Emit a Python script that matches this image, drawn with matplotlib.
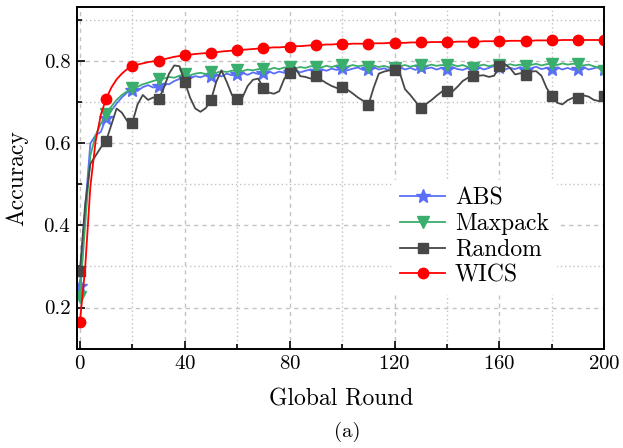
import numpy as np
import matplotlib
matplotlib.use("Agg")
import matplotlib.pyplot as plt
from matplotlib.ticker import MultipleLocator

plt.rcParams['font.family'] = ['cmr10', 'DejaVu Serif']
plt.rcParams['axes.formatter.use_mathtext'] = True
plt.rcParams['mathtext.fontset'] = 'cm'

# accuracy logged every 2 global rounds, 0..200
rounds = np.arange(0, 201, 2)

abs_acc = [
    0.252, 0.440, 0.600, 0.620, 0.628, 0.662, 0.680, 0.697, 0.712, 0.724,
    0.731, 0.728, 0.737, 0.742, 0.736, 0.740, 0.746, 0.744, 0.752, 0.757,
    0.760, 0.758, 0.764, 0.761, 0.766, 0.764, 0.768, 0.763, 0.770, 0.766,
    0.768, 0.772, 0.767, 0.773, 0.769, 0.771, 0.776, 0.770, 0.775, 0.772,
    0.775, 0.779, 0.773, 0.777, 0.780, 0.776, 0.781, 0.777, 0.782, 0.779,
    0.784, 0.778, 0.782, 0.785, 0.779, 0.781, 0.786, 0.780, 0.783, 0.778,
    0.781, 0.786, 0.780, 0.784, 0.779, 0.787, 0.782, 0.785, 0.780, 0.784,
    0.782, 0.786, 0.781, 0.779, 0.784, 0.781, 0.786, 0.780, 0.784, 0.789,
    0.785, 0.780, 0.784, 0.781, 0.786, 0.779, 0.783, 0.787, 0.781, 0.784,
    0.781, 0.785, 0.780, 0.784, 0.779, 0.782, 0.786, 0.780, 0.783, 0.787,
    0.781,
]

maxpack_acc = [
    0.225, 0.400, 0.570, 0.620, 0.648, 0.672, 0.690, 0.706, 0.718, 0.727,
    0.734, 0.738, 0.744, 0.748, 0.752, 0.756, 0.758, 0.762, 0.760, 0.765,
    0.768, 0.766, 0.770, 0.772, 0.769, 0.774, 0.772, 0.776, 0.774, 0.777,
    0.778, 0.776, 0.780, 0.778, 0.781, 0.782, 0.780, 0.784, 0.781, 0.785,
    0.785, 0.783, 0.786, 0.784, 0.788, 0.787, 0.785, 0.789, 0.786, 0.790,
    0.790, 0.787, 0.791, 0.788, 0.790, 0.787, 0.790, 0.786, 0.789, 0.785,
    0.783, 0.788, 0.791, 0.787, 0.790, 0.791, 0.788, 0.792, 0.789, 0.791,
    0.790, 0.792, 0.788, 0.791, 0.786, 0.784, 0.789, 0.792, 0.788, 0.791,
    0.791, 0.789, 0.793, 0.790, 0.792, 0.788, 0.791, 0.794, 0.790, 0.793,
    0.794, 0.791, 0.795, 0.792, 0.794, 0.793, 0.790, 0.792, 0.788, 0.784,
    0.777,
]

random_acc = [
    0.288, 0.450, 0.550, 0.570, 0.590, 0.606, 0.645, 0.685, 0.675, 0.655,
    0.650, 0.695, 0.718, 0.706, 0.712, 0.707, 0.735, 0.770, 0.790, 0.788,
    0.750, 0.712, 0.685, 0.677, 0.686, 0.705, 0.750, 0.778, 0.750, 0.718,
    0.707, 0.712, 0.740, 0.755, 0.758, 0.735, 0.724, 0.721, 0.727, 0.758,
    0.772, 0.786, 0.764, 0.762, 0.758, 0.764, 0.755, 0.747, 0.740, 0.735,
    0.737, 0.731, 0.722, 0.712, 0.704, 0.693, 0.735, 0.770, 0.775, 0.778,
    0.780, 0.772, 0.732, 0.718, 0.702, 0.686, 0.696, 0.705, 0.716, 0.726,
    0.727, 0.726, 0.738, 0.752, 0.760, 0.764, 0.765, 0.766, 0.762, 0.765,
    0.789, 0.794, 0.784, 0.768, 0.771, 0.767, 0.775, 0.776, 0.765, 0.735,
    0.715, 0.699, 0.695, 0.705, 0.711, 0.711, 0.717, 0.714, 0.706, 0.703,
    0.715,
]

wics_acc = [
    0.164, 0.295, 0.495, 0.605, 0.670, 0.709, 0.736, 0.756, 0.770, 0.781,
    0.789, 0.792, 0.795, 0.798, 0.800, 0.802, 0.805, 0.808, 0.811, 0.813,
    0.815, 0.816, 0.818, 0.819, 0.820, 0.821, 0.822, 0.824, 0.825, 0.826,
    0.827, 0.828, 0.829, 0.830, 0.831, 0.832, 0.833, 0.834, 0.834, 0.835,
    0.836, 0.837, 0.837, 0.838, 0.839, 0.840, 0.840, 0.841, 0.841, 0.842,
    0.842, 0.842, 0.843, 0.843, 0.843, 0.843, 0.844, 0.844, 0.844, 0.845,
    0.845, 0.845, 0.845, 0.846, 0.846, 0.846, 0.846, 0.847, 0.847, 0.847,
    0.847, 0.847, 0.848, 0.848, 0.848, 0.848, 0.848, 0.849, 0.849, 0.849,
    0.849, 0.849, 0.850, 0.850, 0.850, 0.850, 0.850, 0.851, 0.851, 0.851,
    0.851, 0.851, 0.852, 0.852, 0.852, 0.852, 0.852, 0.852, 0.852, 0.852,
    0.852,
]

series = [
    ('ABS', abs_acc, '#5b6ef7', '*', 10),
    ('Maxpack', maxpack_acc, '#3aae6c', 'v', 8),
    ('Random', random_acc, '#474747', 's', 6.5),
    ('WICS', wics_acc, '#ff0000', 'o', 7.5),
]

fig = plt.figure(figsize=(6.23, 4.48), dpi=100)
ax = fig.add_axes([0.124, 0.222, 0.846, 0.762])

for name, acc, color, marker, ms in series:
    ax.plot(rounds, acc, color=color, lw=1.3, marker=marker, ms=ms,
            markevery=5, label=name)

ax.set_xlim(-1, 200)
ax.set_ylim(0.1, 0.932)
ax.xaxis.set_major_locator(MultipleLocator(40))
ax.xaxis.set_minor_locator(MultipleLocator(20))
ax.yaxis.set_major_locator(MultipleLocator(0.2))
ax.yaxis.set_minor_locator(MultipleLocator(0.1))
ax.yaxis.set_major_formatter(lambda v, p: f'{v:.1f}')

ax.grid(which='major', color='#c2c2c2', ls=(0, (3, 3)), lw=1)
ax.grid(which='minor', color='#c2c2c2', ls=(0, (1, 2)), lw=1)
ax.set_axisbelow(True)

ax.tick_params(which='both', direction='in', labelsize=15, width=1.2)
ax.tick_params(which='major', length=6, pad=5)
ax.tick_params(which='minor', length=3.5)
for sp in ax.spines.values():
    sp.set_linewidth(1.4)

ax.set_xlabel('Global Round', fontsize=17, labelpad=11)
ax.set_ylabel('Accuracy', fontsize=17, labelpad=11)

leg = ax.legend(loc='lower left', bbox_to_anchor=(0.577, 0.126), fontsize=17,
                frameon=True, fancybox=False, edgecolor='white', framealpha=1,
                handlelength=1.9, borderpad=0.3, labelspacing=0.15,
                handletextpad=0.42)

fig.text(0.557, 0.036, '(a)', fontsize=15, ha='center', va='center')

fig.savefig('out.png', dpi=100)
